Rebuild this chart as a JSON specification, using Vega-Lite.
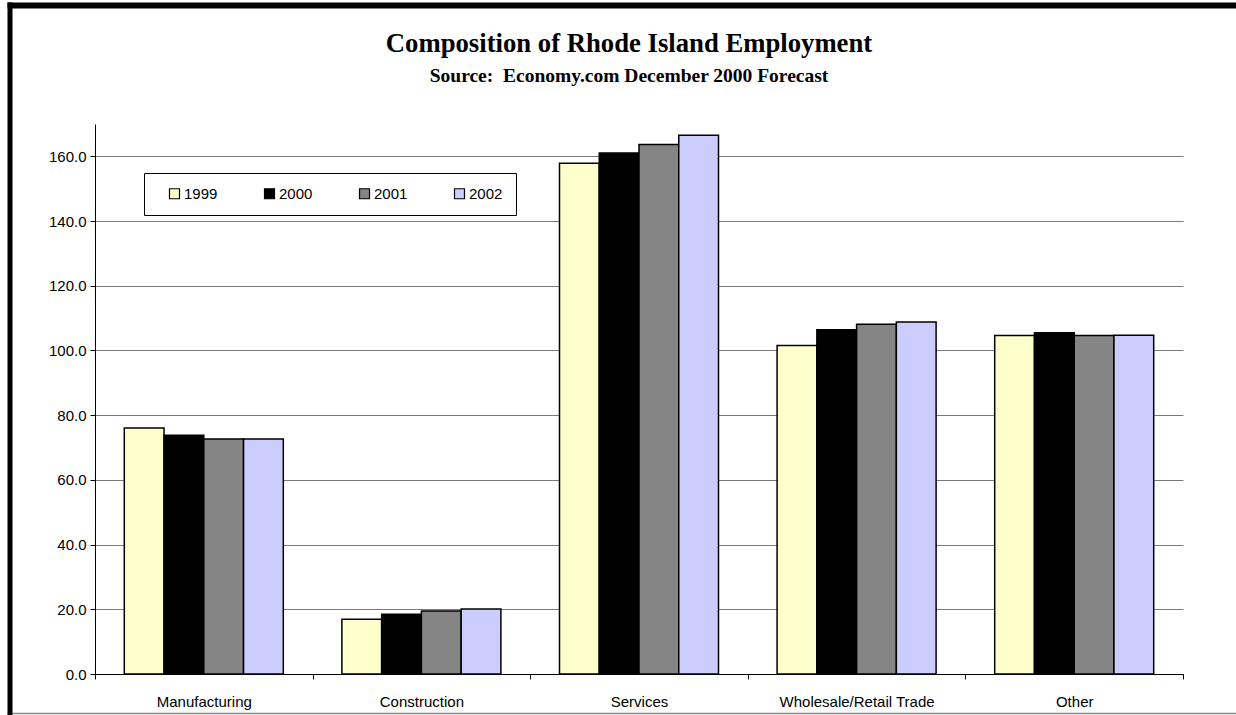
{
  "$schema": "https://vega.github.io/schema/vega-lite/v6.json",
  "width": 1088,
  "height": 550,
  "autosize": "none",
  "padding": {"left": 95, "top": 124, "right": 53, "bottom": 41},
  "background": "white",
  "title": {
    "text": "Composition of Rhode Island Employment",
    "subtitle": "Source:\u00a0 Economy.com December 2000 Forecast",
    "font": "Liberation Serif",
    "fontSize": 26.7,
    "fontWeight": "bold",
    "color": "black",
    "subtitleFont": "Liberation Serif",
    "subtitleFontSize": 19.5,
    "subtitleFontWeight": "bold",
    "subtitleColor": "black",
    "subtitlePadding": 9,
    "anchor": "middle",
    "frame": "group",
    "dx": -10,
    "offset": -80
  },
  "data": {
    "values": [
      {"sector": "Manufacturing", "year": "1999", "value": 76.0},
      {"sector": "Manufacturing", "year": "2000", "value": 73.8},
      {"sector": "Manufacturing", "year": "2001", "value": 72.6},
      {"sector": "Manufacturing", "year": "2002", "value": 72.6},
      {"sector": "Construction", "year": "1999", "value": 16.9},
      {"sector": "Construction", "year": "2000", "value": 18.5},
      {"sector": "Construction", "year": "2001", "value": 19.5},
      {"sector": "Construction", "year": "2002", "value": 20.1},
      {"sector": "Services", "year": "1999", "value": 157.9},
      {"sector": "Services", "year": "2000", "value": 161.0},
      {"sector": "Services", "year": "2001", "value": 163.7},
      {"sector": "Services", "year": "2002", "value": 166.5},
      {"sector": "Wholesale/Retail Trade", "year": "1999", "value": 101.5},
      {"sector": "Wholesale/Retail Trade", "year": "2000", "value": 106.4},
      {"sector": "Wholesale/Retail Trade", "year": "2001", "value": 108.1},
      {"sector": "Wholesale/Retail Trade", "year": "2002", "value": 108.8},
      {"sector": "Other", "year": "1999", "value": 104.6},
      {"sector": "Other", "year": "2000", "value": 105.5},
      {"sector": "Other", "year": "2001", "value": 104.6},
      {"sector": "Other", "year": "2002", "value": 104.7}
    ]
  },
  "layer": [
    {
      "mark": {"type": "bar", "stroke": "black", "strokeWidth": 1.5},
      "encoding": {
        "x": {
          "field": "sector",
          "type": "nominal",
          "sort": ["Manufacturing", "Construction", "Services", "Wholesale/Retail Trade", "Other"],
          "scale": {"paddingInner": 0, "paddingOuter": 0},
          "axis": {
            "title": null,
            "orient": "bottom",
            "labelAngle": 0,
            "tickBand": "extent",
            "labelFont": "Liberation Sans",
            "labelFontSize": 15,
            "labelColor": "black",
            "labelPadding": 15,
            "domainColor": "black",
            "tickColor": "black",
            "tickSize": 5,
            "grid": false
          }
        },
        "xOffset": {
          "field": "year",
          "type": "nominal",
          "scale": {"paddingInner": 0, "paddingOuter": 0.737}
        },
        "y": {
          "field": "value",
          "type": "quantitative",
          "scale": {"domain": [0, 170], "nice": false},
          "axis": {
            "title": null,
            "orient": "left",
            "values": [0, 20, 40, 60, 80, 100, 120, 140, 160],
            "format": ".1f",
            "labelFont": "Liberation Sans",
            "labelFontSize": 15,
            "labelColor": "black",
            "labelPadding": 4,
            "domainColor": "black",
            "tickColor": "black",
            "tickSize": 5,
            "grid": true,
            "gridColor": "#7a7a7a",
            "gridWidth": 1
          }
        },
        "color": {
          "field": "year",
          "type": "nominal",
          "scale": {
            "domain": ["1999", "2000", "2001", "2002"],
            "range": ["#FFFFCC", "#000000", "#858585", "#CCCCFF"]
          },
          "legend": {
            "title": null,
            "orient": "none",
            "legendX": 49,
            "legendY": 49,
            "direction": "horizontal",
            "columns": 4,
            "strokeColor": "black",
            "fillColor": "white",
            "padding": 13,
            "symbolType": "square",
            "symbolSize": 100,
            "symbolOffset": 10,
            "symbolStrokeColor": "black",
            "symbolStrokeWidth": 1.2,
            "labelFont": "Liberation Sans",
            "labelFontSize": 15,
            "labelColor": "black",
            "labelOffset": 2,
            "columnPadding": 34
          }
        }
      }
    },
    {
      "mark": {"type": "point", "opacity": 0},
      "encoding": {
        "x": {
          "field": "value",
          "type": "quantitative",
          "scale": {"domain": [0, 170], "nice": false, "range": [-88, 1141]},
          "axis": {"orient": "top", "offset": 119, "title": null, "labels": false, "ticks": false, "grid": false, "domainColor": "black", "domainWidth": 6}
        },
        "y": {
          "field": "value",
          "type": "quantitative",
          "scale": {"domain": [0, 170], "nice": false, "range": [591, -122]},
          "axis": {"orient": "left", "offset": 85.5, "title": null, "labels": false, "ticks": false, "grid": false, "domainColor": "black", "domainWidth": 5}
        }
      }
    },
    {
      "mark": {"type": "point", "opacity": 0},
      "encoding": {
        "x": {
          "field": "value",
          "type": "quantitative",
          "scale": {"domain": [0, 170], "nice": false, "range": [-88, 1141]},
          "axis": {"orient": "bottom", "offset": 39, "title": null, "labels": false, "ticks": false, "grid": false, "domainColor": "#8a8a8a", "domainWidth": 1.5}
        }
      }
    }
  ],
  "resolve": {
    "scale": {"x": "independent", "y": "independent"},
    "axis": {"x": "independent", "y": "independent"}
  },
  "config": {"view": {"stroke": null}}
}
